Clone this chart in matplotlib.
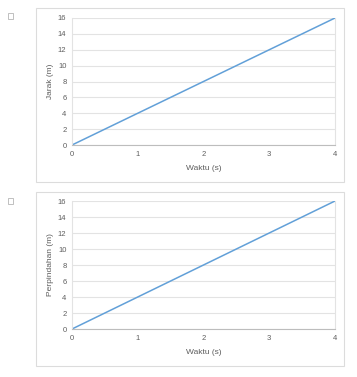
import matplotlib.pyplot as plt
from matplotlib.patches import Rectangle

# data
waktu = [0, 1, 2, 3, 4]
jarak = [0, 4, 8, 12, 16]
perpindahan = [0, 4, 8, 12, 16]
x_ticks = [0, 1, 2, 3, 4]
y_ticks = [0, 2, 4, 6, 8, 10, 12, 14, 16]

W, H = 357, 377
LINE_COLOR = '#62a0d8'
TEXT_COLOR = '#5e5e5e'
GRID_COLOR = '#e3e3e3'

plt.rcParams['font.family'] = ['Liberation Sans', 'DejaVu Sans']

fig = plt.figure(figsize=(W / 100, H / 100), dpi=100)
fig.patch.set_facecolor('white')


def px_rect(x0, y0, x1, y1):
    """Convert pixel box (top-left origin) to figure fraction [l, b, w, h]."""
    return [x0 / W, (H - y1) / H, (x1 - x0) / W, (y1 - y0) / H]


def panel(box, plot, checkbox, ylabel, values):
    # outer frame
    l, b, w, h = px_rect(*box)
    fig.add_artist(Rectangle((l, b), w, h, transform=fig.transFigure,
                             fill=False, edgecolor='#dcdcdc', linewidth=0.8))
    # little checkbox on the left
    l, b, w, h = px_rect(*checkbox)
    fig.add_artist(Rectangle((l, b), w, h, transform=fig.transFigure,
                             fill=False, edgecolor='#b5b5b5', linewidth=0.6))

    ax = fig.add_axes(px_rect(*plot))
    ax.plot(waktu, values, color=LINE_COLOR, linewidth=1.1, solid_capstyle='round')
    ax.set_xlim(0, 4)
    ax.set_ylim(0, 16)
    ax.set_xticks(x_ticks)
    ax.set_yticks(y_ticks)
    ax.yaxis.grid(True, color=GRID_COLOR, linewidth=0.8)
    ax.set_axisbelow(True)
    for side in ['left', 'right']:
        ax.spines[side].set_color(GRID_COLOR)
        ax.spines[side].set_linewidth(0.8)
    ax.spines['top'].set_visible(False)
    ax.spines['bottom'].set_color('#bdbdbd')
    ax.spines['bottom'].set_linewidth(0.8)
    ax.tick_params(length=0, labelsize=5.5, labelcolor=TEXT_COLOR, pad=4)
    ax.set_xlabel('Waktu (s)', fontsize=6, color=TEXT_COLOR, labelpad=5)
    ax.set_ylabel(ylabel, fontsize=6, color=TEXT_COLOR, labelpad=3)
    return ax


panel((36, 8, 344, 182), (72, 18, 335, 145), (8, 13, 13, 19), 'Jarak (m)', jarak)
panel((36, 192, 344, 366), (72, 201, 335, 329), (8, 198, 13, 204), 'Perpindahan (m)', perpindahan)

fig.savefig('out.png', dpi=100)
